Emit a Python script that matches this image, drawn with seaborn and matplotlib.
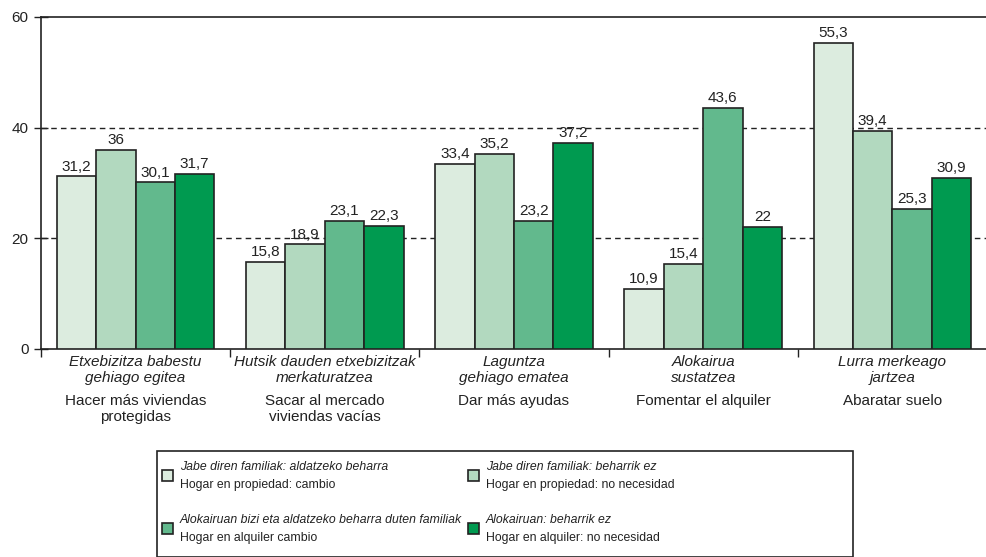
import matplotlib

matplotlib.use("Agg")
import matplotlib.pyplot as plt
import matplotlib.transforms as mtransforms
from matplotlib.patches import Rectangle
import pandas as pd
import seaborn as sns

# --- data ---
groups_eu = ["Etxebizitza babestu\ngehiago egitea", "Hutsik dauden etxebizitzak\nmerkaturatzea",
             "Laguntza\ngehiago ematea", "Alokairua\nsustatzea", "Lurra merkeago\njartzea"]
groups_es = ["Hacer más viviendas\nprotegidas", "Sacar al mercado\nviviendas vacías",
             "Dar más ayudas", "Fomentar el alquiler", "Abaratar suelo"]
series_eu = ["Jabe diren familiak: aldatzeko beharra", "Jabe diren familiak: beharrik ez",
             "Alokairuan bizi eta aldatzeko beharra duten familiak", "Alokairuan: beharrik ez"]
series_es = ["Hogar en propiedad: cambio", "Hogar en propiedad: no necesidad",
             "Hogar en alquiler cambio", "Hogar en alquiler: no necesidad"]
owner_change = [31.2, 15.8, 33.4, 10.9, 55.3]
owner_none = [36, 18.9, 35.2, 15.4, 39.4]
rent_change = [30.1, 23.1, 23.2, 43.6, 25.3]
rent_none = [31.7, 22.3, 37.2, 22, 30.9]
colors = ["#dcecdf", "#b2d9bf", "#62b98d", "#009a50"]

values = [owner_change, owner_none, rent_change, rent_none]
rows = []
for s, vals in zip(series_eu, values):
    for g, v in zip(groups_es, vals):
        rows.append({"group": g, "series": s, "value": v})
df = pd.DataFrame(rows)

sns.set_style("white")
plt.rcParams["font.family"] = ["Liberation Sans", "DejaVu Sans"]
ink = "#222222"

fig = plt.figure(figsize=(9.87, 5.57), dpi=100)
ax = fig.add_axes([41 / 987, 1 - 349 / 557, 946 / 987, 332 / 557])

sns.barplot(data=df, x="group", y="value", hue="series", order=groups_es,
            hue_order=series_eu, palette=colors, saturation=1, width=0.833, gap=0,
            edgecolor=ink, linewidth=1.2, legend=False, ax=ax, zorder=3)

for cont in ax.containers:
    ax.bar_label(cont, labels=[f"{v:g}".replace(".", ",") for v in cont.datavalues],
                 padding=2, fontsize=11, color=ink)

ax.set_xlim(-0.5, -0.5 + 946 / 192)
ax.set_ylim(0, 60)
ax.set_yticks([0, 20, 40, 60])
ax.tick_params(axis="y", direction="inout", length=10, width=1, labelsize=11,
               colors=ink, pad=4, left=True)
for y in (20, 40):
    ax.axhline(y, color=ink, lw=1, ls=(0, (4, 3)), zorder=1)

ax.set_xticks([i - 0.5 for i in range(6)])
ax.set_xticklabels([])
ax.tick_params(axis="x", direction="out", length=6, width=1, bottom=True, colors=ink)
ax.set_xlabel("")
ax.set_ylabel("")

for side in ("left", "bottom", "top"):
    ax.spines[side].set_color(ink)
    ax.spines[side].set_linewidth(1.2)
ax.spines["right"].set_visible(False)

trans = mtransforms.blended_transform_factory(ax.transData, fig.transFigure)
for i, (eu, es) in enumerate(zip(groups_eu, groups_es)):
    ax.text(i, 1 - 355 / 557, eu, transform=trans, ha="center", va="top",
            fontsize=11, style="italic", color=ink, linespacing=1.15)
    ax.text(i, 1 - 394 / 557, es, transform=trans, ha="center", va="top",
            fontsize=11, color=ink, linespacing=1.15)

# legend box, drawn by hand for the two-style labels
fig.patches.append(Rectangle((157 / 987, 0), (853 - 157) / 987, (557 - 451) / 557,
                             transform=fig.transFigure, fill=False,
                             edgecolor=ink, lw=1.2))
pos = [(162, 470), (468, 470), (162, 523), (468, 523)]
for (px, py), c, eu, es in zip(pos, colors, series_eu, series_es):
    fig.patches.append(Rectangle((px / 987, 1 - (py + 11) / 557), 11 / 987, 11 / 557,
                                 transform=fig.transFigure, facecolor=c,
                                 edgecolor=ink, lw=1.2))
    fig.text((px + 18) / 987, 1 - (py - 3) / 557, eu, ha="left", va="center",
             fontsize=8.8, style="italic", color=ink)
    fig.text((px + 18) / 987, 1 - (py + 15) / 557, es, ha="left", va="center",
             fontsize=8.8, color=ink)

fig.savefig("out.png", dpi=100)
